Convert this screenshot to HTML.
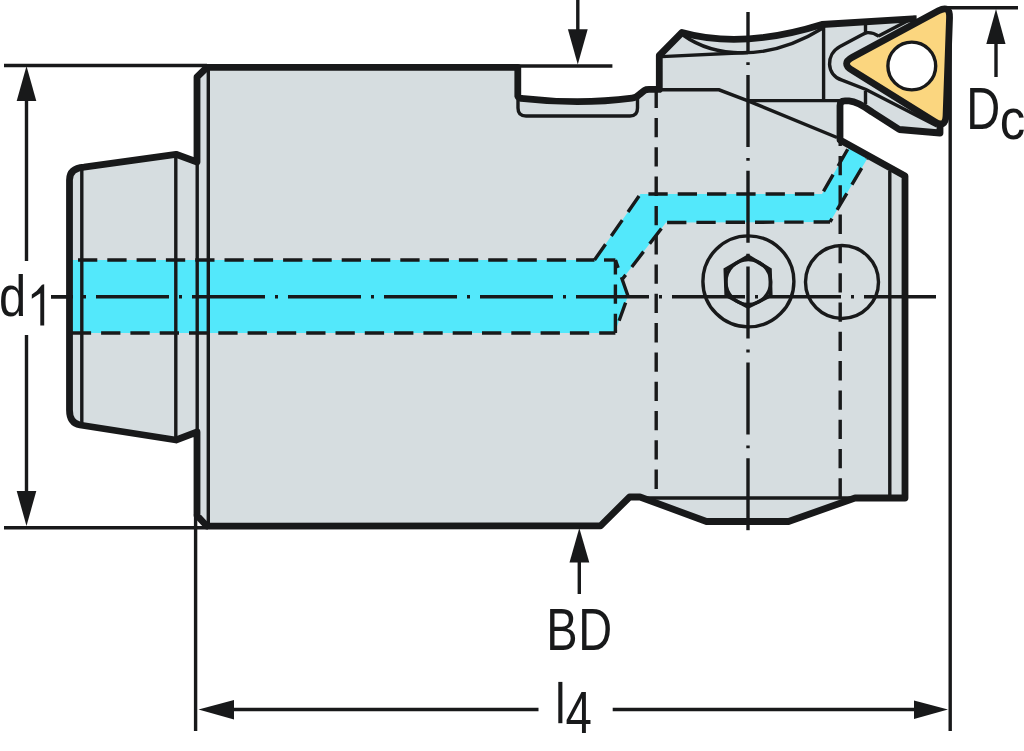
<!DOCTYPE html>
<html><head><meta charset="utf-8"><style>
html,body{margin:0;padding:0;background:#fff;width:1024px;height:751px;overflow:hidden}
svg{display:block}
#w{width:1024px;height:751px}
text{font-family:"Liberation Sans", sans-serif}
</style></head><body>
<div id="w"><svg width="1024" height="751" viewBox="0 0 1024 751">
<path d="M207,67.3 L517.8,67.3 L517.8,96 Q518.5,98.6 524,98.6 Q580,105 632,98.2 Q636,97.8 640,94 L644.5,90.3 Q646,89.4 649,89.4 L659.3,89.4 L659.3,55.5 L682,32.5 Q742,49.5 822,24.5 L916.7,18.7 L947.6,6.1 L943.2,127.1 L940,127 L940,133 L899.3,129.5 L872,112 Q858,101.5 849,100.8 L845,100.8 Q840,100.8 840,105.5 L840,140 L905,176 L905,498 L855,498 L788.5,521.5 L706.5,521.5 L640,497 L629.6,497 L600.5,525.8 L207,526.2 L197,515.5 L197,432 L176,440 L80,425 Q69.5,423 69.5,410 L69.5,180 Q69.5,168.3 84,167.2 L176,154.3 L197,162 L197,77 Z" fill="#d6dde0"/>
<path d="M71,260 L594.5,260 L640.5,194 L850,194 L822,194 L849,147 L867,159 L830,222 L666,222.5 L622.5,279 L628,296 L615.4,331 L615.4,333 L71,333 Z" fill="#53e8fb"/>
<line x1="81.8" y1="168" x2="81.8" y2="424" stroke="#18191a" stroke-width="3.4" />
<line x1="175.8" y1="154" x2="175.8" y2="440" stroke="#18191a" stroke-width="3.4" />
<line x1="197.2" y1="162" x2="197.2" y2="432" stroke="#18191a" stroke-width="3.4" />
<line x1="208.3" y1="69" x2="208.3" y2="523" stroke="#18191a" stroke-width="3.4" />
<line x1="71" y1="260" x2="594.5" y2="260" stroke="#18191a" stroke-width="3.4" stroke-dasharray="19.3 10" stroke-dashoffset="22.30"/>
<line x1="594.5" y1="260" x2="640.5" y2="194" stroke="#18191a" stroke-width="3.4" stroke-dasharray="19.3 10" stroke-dashoffset="0.00"/>
<line x1="640.5" y1="194" x2="822" y2="194" stroke="#18191a" stroke-width="3.4" stroke-dasharray="19.3 10" stroke-dashoffset="21.40"/>
<line x1="822" y1="194" x2="849" y2="147" stroke="#18191a" stroke-width="3.4" stroke-dasharray="19.3 10" stroke-dashoffset="26.30"/>
<line x1="71" y1="333" x2="615.4" y2="333" stroke="#18191a" stroke-width="3.4" stroke-dasharray="19.3 10" stroke-dashoffset="28.50"/>
<line x1="615.4" y1="333" x2="615.4" y2="260" stroke="#18191a" stroke-width="3.4" stroke-dasharray="19.3 10" stroke-dashoffset="0.00"/>
<line x1="615.4" y1="260" x2="604" y2="260" stroke="#18191a" stroke-width="3.4" stroke-dasharray="19.3 10" stroke-dashoffset="0.00"/>
<line x1="867" y1="159" x2="830" y2="222" stroke="#18191a" stroke-width="3.4" stroke-dasharray="19.3 10" stroke-dashoffset="18.80"/>
<line x1="830" y1="222" x2="666" y2="222.5" stroke="#18191a" stroke-width="3.4" stroke-dasharray="19.3 10" stroke-dashoffset="2.90"/>
<line x1="666" y1="222.5" x2="622.5" y2="279" stroke="#18191a" stroke-width="3.4" stroke-dasharray="19.3 10" stroke-dashoffset="21.80"/>
<line x1="615.4" y1="260" x2="628" y2="296" stroke="#18191a" stroke-width="3.4" stroke-dasharray="19.3 10" stroke-dashoffset="11.00"/>
<line x1="628" y1="296" x2="615.4" y2="331" stroke="#18191a" stroke-width="3.4" stroke-dasharray="19.3 10" stroke-dashoffset="22.30"/>
<line x1="656.2" y1="92" x2="656.2" y2="497" stroke="#18191a" stroke-width="3.4" stroke-dasharray="19.3 10" stroke-dashoffset="3.3"/>
<line x1="840.2" y1="140" x2="840.2" y2="497" stroke="#18191a" stroke-width="3.4" stroke-dasharray="19.3 10" stroke-dashoffset="13.3"/>
<line x1="51" y1="296.8" x2="936" y2="296.8" stroke="#18191a" stroke-width="3.4" stroke-dasharray="73 10 3 10" stroke-dashoffset="-45"/>
<line x1="748" y1="12.1" x2="748" y2="531" stroke="#18191a" stroke-width="3.4" stroke-dasharray="72 11 2.8 10" stroke-dashoffset="32.9"/>
<path d="M661.5,56.6 L748,52.5" fill="none" stroke="#18191a" stroke-width="3.4"/>
<path d="M683,35 C712,56 765,64 823,28" fill="none" stroke="#18191a" stroke-width="3.4"/>
<line x1="823.6" y1="26" x2="823.6" y2="100.6" stroke="#18191a" stroke-width="3.4" />
<polyline points="661,89.8 719,89.8 747.4,100.6 837,137.5" fill="none" stroke="#18191a" stroke-width="3.4"/>
<line x1="747.4" y1="100.6" x2="840" y2="100.6" stroke="#18191a" stroke-width="3.4" />
<line x1="865.5" y1="20" x2="865.5" y2="33" stroke="#18191a" stroke-width="3.4" />
<line x1="865.5" y1="91" x2="865.5" y2="104" stroke="#18191a" stroke-width="3.4" />
<line x1="889.8" y1="171" x2="889.8" y2="498" stroke="#18191a" stroke-width="3.4" />
<line x1="640" y1="498" x2="855" y2="498" stroke="#18191a" stroke-width="3.4" />
<path d="M518,98 L518,108 Q518,116 526,116 L630,116 Q637.5,116 637.5,108 L637.5,96" fill="none" stroke="#18191a" stroke-width="3.4"/>
<path d="M879,36.3 Q873,32.3 867.5,32.6 Q865,33 862,34.8 L840,46.5 C825.5,54.5 826,75 842,80.2 L866,89.5 L937,126" fill="none" stroke="#18191a" stroke-width="3.4"/>
<path d="M878.5,36 L915,17" fill="none" stroke="#18191a" stroke-width="3.4"/>
<circle cx="748.4" cy="281.4" r="45.5" fill="none" stroke="#18191a" stroke-width="3.4"/>
<circle cx="842" cy="282" r="36.5" fill="none" stroke="#18191a" stroke-width="3.4"/>
<polygon points="748,256.2 725.3,269.5 726.2,295.5 748,307 770.8,295.5 770,269.5" fill="none" stroke="#18191a" stroke-width="3.6" stroke-linejoin="miter"/>
<circle cx="748.3" cy="282" r="22.4" fill="none" stroke="#18191a" stroke-width="3.4"/>
<path d="M940,125 L940,133 L899.3,129.5 L872,112 Q858,101.5 849,100.8 L845,100.8 Q840,100.8 840,105.5 L840,140 L905,176 L905,498 L855,498 L788.5,521.5 L706.5,521.5 L640,497 L629.6,497 L600.5,525.8 L207,526.2 L197,515.5 L197,432 L176,440 L80,425 Q69.5,423 69.5,410 L69.5,180 Q69.5,168.3 84,167.2 L176,154.3 L197,162 L197,77 L207,67.3 L517.8,67.3 L517.8,96 Q518.5,98.6 524,98.6 Q580,105 632,98.2 Q636,97.8 640,94 L644.5,90.3 Q646,89.4 649,89.4 L659.3,89.4 L659.3,55.5 L682,32.5 Q742,49.5 822,24.5 L916.7,18.7" fill="none" stroke="#18191a" stroke-width="6.8" stroke-linejoin="round"/>
<path d="M949.54,17.68 L946.06,115.46 Q945.60,128.40 934.61,121.57 L851.99,70.23 Q841.00,63.40 852.39,57.26 L938.48,10.82 Q950.00,4.60 949.54,17.68 Z" fill="#fbd67f" stroke="#18191a" stroke-width="6.8" stroke-linejoin="round"/>
<circle cx="911.8" cy="66" r="23.9" fill="#ffffff" stroke="#18191a" stroke-width="3.4"/>
<line x1="4" y1="65.5" x2="207" y2="65.5" stroke="#18191a" stroke-width="3.4" />
<line x1="26.5" y1="100" x2="26.5" y2="261" stroke="#18191a" stroke-width="3.4" />
<line x1="26.5" y1="335" x2="26.5" y2="491" stroke="#18191a" stroke-width="3.4" />
<line x1="4" y1="527.7" x2="208" y2="527.7" stroke="#18191a" stroke-width="3.4" />
<polygon points="26.5,66 16.7,101 36.3,101" fill="#18191a"/>
<polygon points="26.5,526 16.7,491 36.3,491" fill="#18191a"/>
<line x1="51" y1="296.8" x2="70" y2="296.8" stroke="#18191a" stroke-width="3.4" />
<line x1="517" y1="66" x2="612.4" y2="66" stroke="#18191a" stroke-width="3.4" />
<line x1="577.8" y1="0" x2="577.8" y2="30" stroke="#18191a" stroke-width="3.4" />
<polygon points="577.8,64.5 567.9,29.3 587.7,29.3" fill="#18191a"/>
<line x1="579.3" y1="560" x2="579.3" y2="594" stroke="#18191a" stroke-width="3.4" />
<polygon points="579.3,528 569.5,562.5 589.3,562.5" fill="#18191a"/>
<line x1="195.6" y1="514" x2="195.6" y2="731" stroke="#18191a" stroke-width="3.4" />
<line x1="950.2" y1="10" x2="950.2" y2="731" stroke="#18191a" stroke-width="3.4" />
<line x1="232" y1="709.5" x2="538.5" y2="709.5" stroke="#18191a" stroke-width="3.4" />
<line x1="612.7" y1="709.5" x2="916" y2="709.5" stroke="#18191a" stroke-width="3.4" />
<polygon points="198.5,709.5 234,700 234,719.5" fill="#18191a"/>
<polygon points="948,709.5 914,700.6 914,719" fill="#18191a"/>
<line x1="942" y1="7.7" x2="1018" y2="7.7" stroke="#18191a" stroke-width="3.4" />
<line x1="996" y1="40" x2="996" y2="77" stroke="#18191a" stroke-width="3.4" />
<polygon points="996,9 986.3,44 1005.5,44" fill="#18191a"/>
<text transform="translate(-0.95,315.74) scale(0.855,1)" font-size="57.19" fill="#18191a">d</text>
<text transform="translate(546.15,650.30) scale(0.804,1)" font-size="58.43" fill="#18191a">B</text>
<text transform="translate(578.25,650.30) scale(0.803,1)" font-size="58.43" fill="#18191a">D</text>
<text transform="translate(565.41,733.10) scale(0.796,1)" font-size="59.59" fill="#18191a">4</text>
<text transform="translate(966.14,128.50) scale(0.794,1)" font-size="59.30" fill="#18191a">D</text>
<text transform="translate(999.83,138.74) scale(0.896,1)" font-size="56.95" fill="#18191a">c</text>
<path d="M44.2,284.3 L44.2,325.6 L40.3,325.6 L40.3,293.3 L31.8,298.7 L31.8,294.6 Q37.5,291 40.5,286.5 Q41.8,284.3 44.2,284.3 Z" fill="#18191a"/>
<rect x="558.3" y="681.9" width="4.1" height="41.3" fill="#18191a"/>
</svg></div>
</body></html>
